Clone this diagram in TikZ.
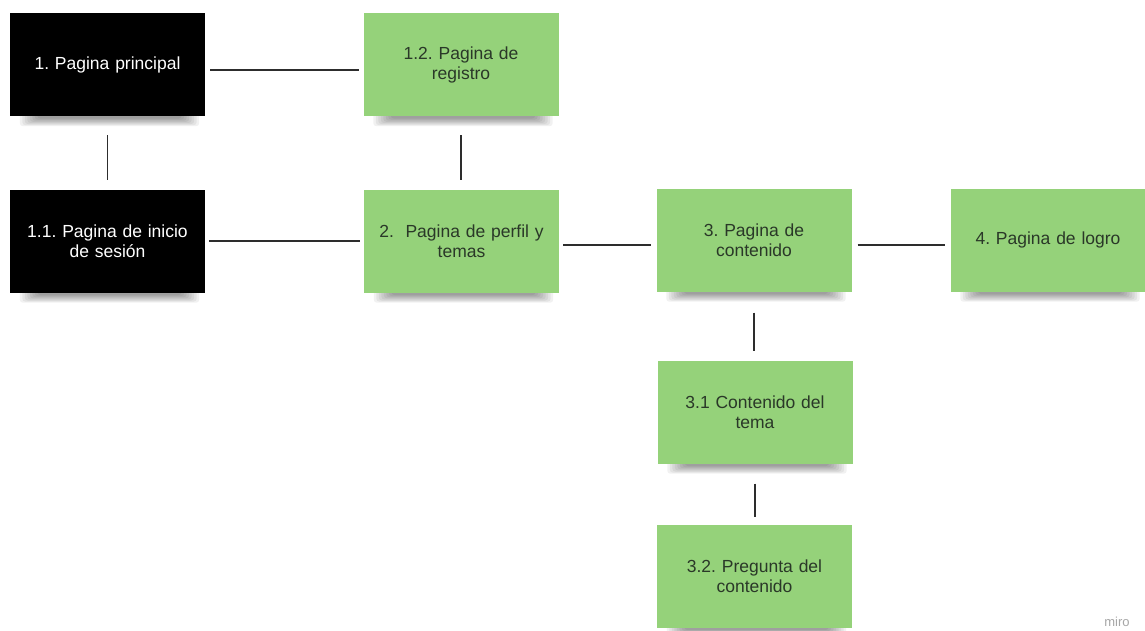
\documentclass[tikz,border=0pt]{standalone}
\usepackage{fontspec}
\setmainfont{Liberation Sans}
\usetikzlibrary{calc}
\pgfdeclarelayer{background}
\pgfsetlayers{background,main}
\definecolor{stickygreen}{RGB}{149,210,122}
\definecolor{greentext}{RGB}{42,56,40}
\definecolor{linegray}{RGB}{45,45,45}
\frenchspacing
\begin{document}
\begin{tikzpicture}[x=1pt,y=-1pt,
  sticky/.style={rectangle, minimum width=195pt, minimum height=103pt, inner sep=0pt,
    text width=180pt, align=center, font=\fontsize{17.5}{20}\selectfont},
  darknote/.style={sticky, fill=black, text=white},
  greennote/.style={sticky, fill=stickygreen, text=greentext},
  link/.style={draw=linegray, line width=1.3pt}]
\useasboundingbox (0,0) rectangle (1145,630);

\node[darknote]  (p1)  at (107.5,64.5) {1. Pagina principal};
\node[darknote]  (p11) at (107.5,241)  {1.1. Pagina de inicio\\de sesión};
\node[greennote] (p12) at (461,64.5)   {1.2. Pagina de\\registro\\[4pt]};
\node[greennote] (p2)  at (461.5,241)  {2.\ \ Pagina de perfil y\\temas};
\node[greennote] (p3)  at (754,240)    {3. Pagina de\\contenido};
\node[greennote] (p4)  at (1048,240)   {4. Pagina de logro};
\node[greennote] (p31) at (755,412)    {3.1 Contenido del\\tema};
\node[greennote] (p32) at (754.5,576)  {3.2. Pregunta del\\contenido};

\begin{pgfonlayer}{background}
\fill[white] (0,0) rectangle (1145,630);
\foreach \n in {p1,p11,p12,p2,p3,p4,p31,p32}{
  \foreach \i in {0,...,7}{
    \fill[black, opacity=0.055, rounded corners=3pt]
      ($(\n.south west)+(10+2.5*\i,-3)$) rectangle ($(\n.south east)+(-6-2.5*\i,{10-1.1*\i})$);
  }
}
\end{pgfonlayer}

\draw[link, shorten <=5pt, shorten >=4pt] ([yshift=-5.5pt]p1.east) -- ([yshift=-5.5pt]p1.east -| p12.west);
\draw[link, shorten <=19pt, shorten >=9pt] (p1.south) -- (p11.north);
\draw[link, shorten <=19pt, shorten >=9pt] (p12.south) -- (p12.south |- p2.north);
\draw[link, shorten <=4pt, shorten >=4pt] (p11.east) -- (p2.west);
\draw[link, shorten <=4pt, shorten >=5pt] ([yshift=-4pt]p2.east) -- ([yshift=-4pt]p2.east -| p3.west);
\draw[link, shorten <=6pt, shorten >=5pt] ([yshift=-5pt]p3.east) -- ([yshift=-5pt]p4.west);
\draw[link, shorten <=21pt, shorten >=9pt] (p3.south) -- (p3.south |- p31.north);
\draw[link, shorten <=20pt, shorten >=7pt] (p31.south) -- (p31.south |- p32.north);

\node[text=black!35, font=\fontsize{13}{15}\selectfont] (miro) at (1117,622) {miro};
\end{tikzpicture}
\end{document}
